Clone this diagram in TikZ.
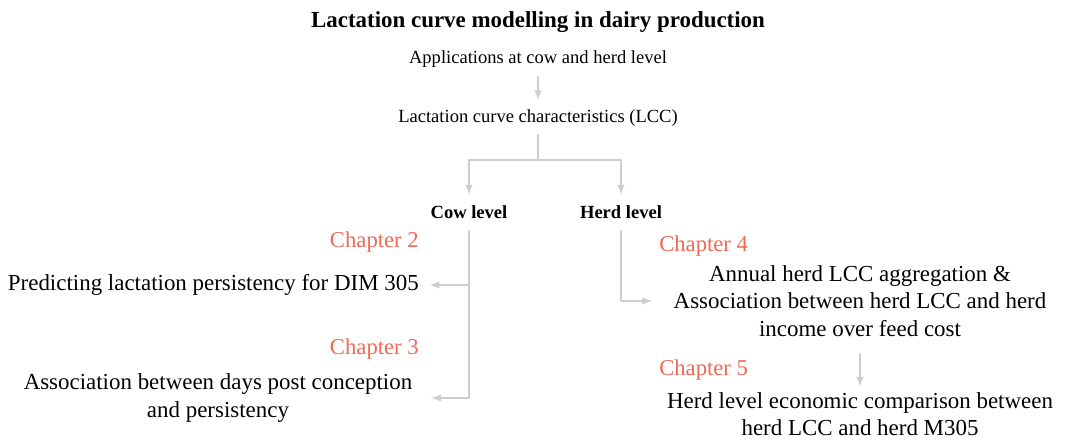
\documentclass[tikz,border=0pt]{standalone}
\usepackage{fontspec}
\setmainfont{Liberation Serif}
\usepackage{tikz}
\tikzset{>=latex}
\usetikzlibrary{arrows}
\usetikzlibrary{calc}

\definecolor{lcgray}{RGB}{205,205,205}
\definecolor{chapred}{RGB}{240,105,85}

\tikzset{
	conn/.style={draw=lcgray, line width=1.5pt},
	arr/.style={conn, ->},
	titletxt/.style={inner sep=0pt, font=\fontsize{17.2}{20.6}\selectfont\bfseries},
	smalltxt/.style={inner sep=0pt, font=\fontsize{13.9}{16.6}\selectfont},
	lvltxt/.style={inner sep=0pt, font=\fontsize{13.9}{16.6}\selectfont\bfseries},
	chaptxt/.style={inner sep=0pt, text=chapred, font=\fontsize{17}{20.6}\selectfont},
	bodytxt/.style={inner sep=0pt, align=center, font=\fontsize{17.2}{20.6}\selectfont}
}

\begin{document}
\begin{tikzpicture}[line cap=round,line join=round,x=0.75pt,y=-0.75pt]
		\useasboundingbox (0,0) rectangle (1066,441);
		% headings
		\node[titletxt] (title) at (538,22) {Lactation curve modelling in dairy production};
		\node[smalltxt] (apps) at (538,59) {Applications at cow and herd level};
		\node[smalltxt] (lcc) at (538,118) {Lactation curve characteristics (LCC)};
		\node[lvltxt] (cow) at (469,212) {Cow level};
		\node[lvltxt] (herd) at (621,212) {Herd level};
		\coordinate (split) at (538,160);
		% cow level
		\node[chaptxt, anchor=east] (ch2) at (419,242) {Chapter 2};
		\node[bodytxt, anchor=east] (pers) at (419,285) {Predicting lactation persistency for DIM 305};
		\node[chaptxt, anchor=east] (ch3) at (419,349) {Chapter 3};
		\node[bodytxt] (dpc) at (218,398) {Association between days post conception\\and persistency};
		% herd level
		\node[chaptxt, anchor=west] (ch4) at (659,246) {Chapter 4};
		\node[bodytxt] (iofc) at (860,301) {Annual herd LCC aggregation \&\\Association between herd LCC and herd\\income over feed cost};
		\node[chaptxt, anchor=west] (ch5) at (659,370) {Chapter 5};
		\node[bodytxt] (econ) at (860,414) {Herd level economic comparison between\\herd LCC and herd M305};
		
		\draw[arr, shorten <=7pt, shorten >=7pt] (apps) -- (lcc);
		\draw[conn, shorten <=6pt] (lcc) -- (split);
		\draw[arr, shorten >=8pt] (split) -| (cow);
		\draw[arr, shorten >=8pt] (split) -| (herd);
		\draw[arr, shorten <=9pt, shorten >=14pt] (cow) |- (dpc);
		\draw[arr, shorten >=8pt] (cow |- pers) -- (pers);
		\draw[arr, shorten <=9pt, shorten >=16pt] (herd) |- (iofc);
		\draw[arr, shorten <=13pt, shorten >=4pt] (iofc) -- (econ);
		
		\end{tikzpicture}
\end{document}
